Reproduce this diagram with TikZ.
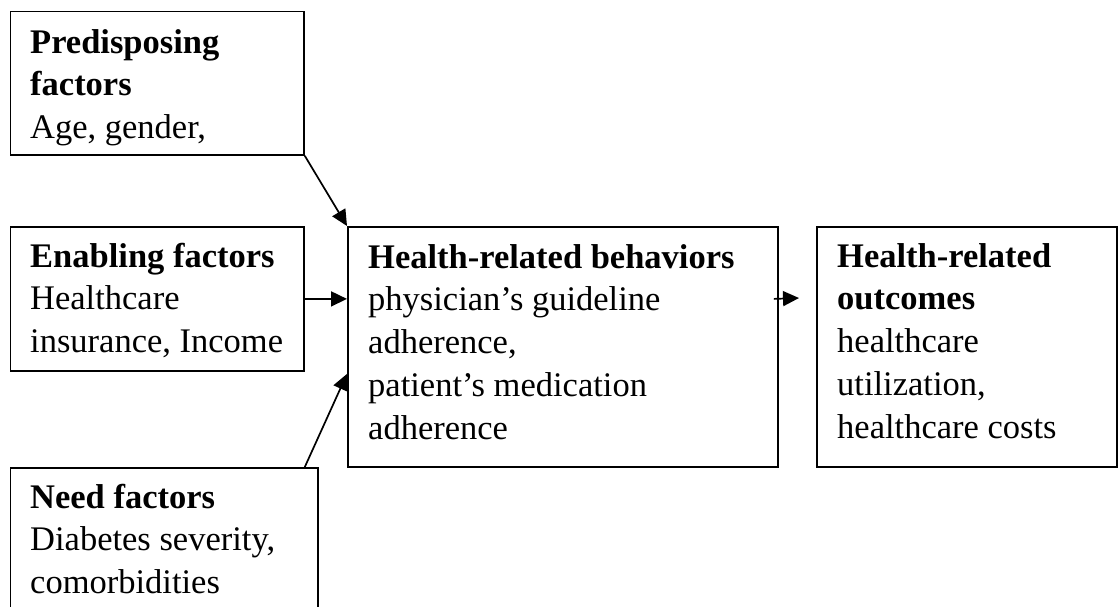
\documentclass[tikz,border=0pt]{standalone}
\usepackage{fontspec}
\setmainfont{Liberation Serif}
\usetikzlibrary{arrows.meta}

\tikzset{
  box/.style={draw, line width=1.8pt, rectangle, inner sep=0pt, anchor=north west},
  label/.style={inner sep=0pt, anchor=base west, align=left,
    font=\fontsize{34.5}{42.8}\selectfont},
  link/.style={line width=1.7pt, -{Triangle[length=16pt,width=15pt]}}
}

\begin{document}
\begin{tikzpicture}[x=1pt,y=-1pt]
  \useasboundingbox (0,0) rectangle (1118,606);

  % frames
  \node[box, minimum width=293.5pt, minimum height=143.5pt] (pre)  at (9.5,10.5) {};
  \node[box, minimum width=293.5pt, minimum height=144pt]   (ena)  at (9.5,226) {};
  \node[box, minimum width=307.5pt, minimum height=180pt]   (need) at (9.5,467) {};
  \node[box, minimum width=430pt,   minimum height=240pt]   (beh)  at (347,226) {};
  \node[box, minimum width=300pt,   minimum height=240pt]   (out)  at (816,226) {};

  % texts, each placed by the baseline of its last line
  \node[label] (preT)  at (30,138.6)  {\textbf{Predisposing}\\\textbf{factors}\\Age, gender,};
  \node[label] (enaT)  at (30,352.6)  {\textbf{Enabling factors}\\Healthcare\\insurance, Income};
  \node[label] (needT) at (30,593.6)  {\textbf{Need factors}\\Diabetes severity,\\comorbidities};
  \node[label] (behT)  at (368,439.2) {\textbf{Health-related behaviors}\\physician’s guideline\\adherence,\\patient’s medication\\adherence};
  \node[label] (outT)  at (837,438.2) {\textbf{Health-related}\\\textbf{outcomes}\\healthcare\\utilization,\\healthcare costs};

  % connectors
  \coordinate (botip) at (799,298);
  \draw[link] (pre.south east) -- (beh.north west);
  \draw[link] (ena.east) -- (ena.east -| beh.west);
  \draw[link] ([xshift=-14pt]need.north east) -- ([yshift=-27pt]beh.west);
  \draw[link] ([xshift=-5pt]beh.east |- ena.east) -- (botip);
\end{tikzpicture}
\end{document}
